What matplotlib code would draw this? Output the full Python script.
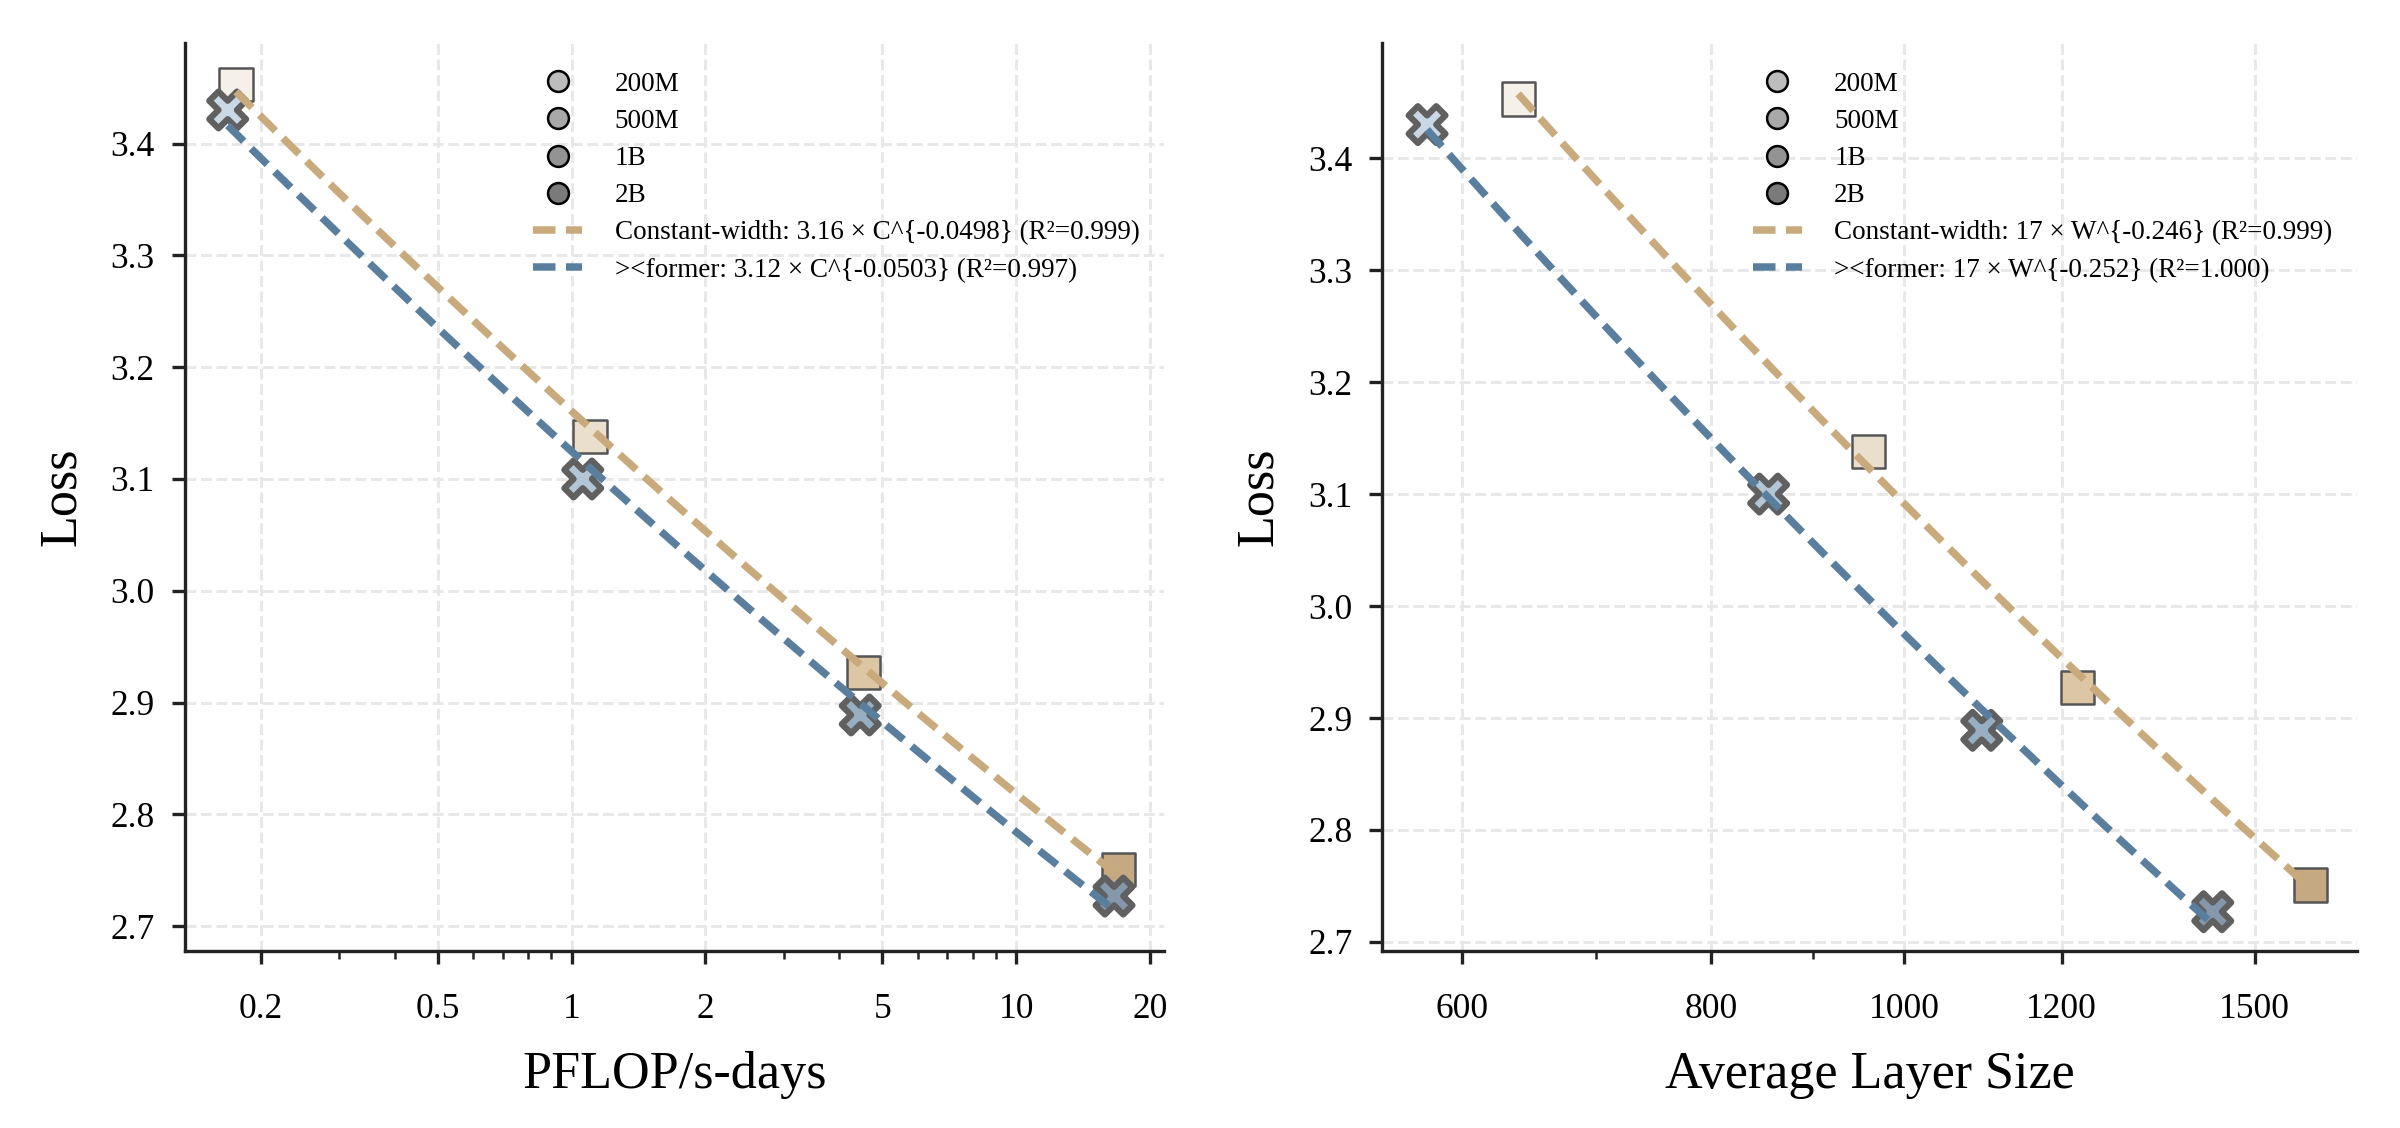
import numpy as np
import matplotlib
matplotlib.use("Agg")
import matplotlib.pyplot as plt
from matplotlib.ticker import FixedLocator, FixedFormatter, NullFormatter
from matplotlib.lines import Line2D

plt.rcParams['font.family'] = ['Liberation Serif', 'DejaVu Serif']

# model sizes (legend)
sizes = ["200M", "500M", "1B", "2B"]
size_grays = ["#bdbdbd", "#a8a8a8", "#939393", "#7a7a7a"]

# constant-width models (squares)
cw_compute = [0.176, 1.10, 4.53, 17.0]
cw_layer = [640, 960, 1222, 1600]
cw_loss = [3.453, 3.138, 2.927, 2.751]

# ><former models (crosses)
fm_compute = [0.1686, 1.06, 4.46, 16.6]
fm_layer = [576, 855, 1094, 1429]
fm_loss = [3.430, 3.100, 2.889, 2.727]

cw_labels = ["Constant-width: 3.16 \u00d7 C^{-0.0498} (R\u00b2=0.999)",
             "Constant-width: 17 \u00d7 W^{-0.246} (R\u00b2=0.999)"]
fm_labels = ["><former: 3.12 \u00d7 C^{-0.0503} (R\u00b2=0.997)",
             "><former: 17 \u00d7 W^{-0.252} (R\u00b2=1.000)"]

square_colors = ["#f5f1e8", "#eadfcc", "#dcc6a4", "#c4a982"]
cross_colors = ["#c9d8e4", "#b3c6d6", "#98aec1", "#8598ab"]
tan = "#c9aa7c"
blue = "#5a7f9e"
dash = (3, 1.4)


def power_fit(x, y):
    slope, icpt = np.polyfit(np.log(x), np.log(y), 1)
    xs = np.geomspace(min(x), max(x), 100)
    return xs, np.exp(icpt) * xs ** slope


def draw_panel(ax, cw_x, fm_x, xlabel, major, minor, xlim, ylim, idx):
    ax.set_xscale('log')
    ax.scatter(cw_x, cw_loss, marker='s', s=64, c=square_colors,
               edgecolors='#555555', linewidths=0.6, zorder=3)
    ax.scatter(fm_x, fm_loss, marker='X', s=78, c=cross_colors,
               edgecolors='#606060', linewidths=1.5, zorder=4)
    xs, ys = power_fit(cw_x, cw_loss)
    ax.plot(xs, ys, linestyle=(0, dash), color=tan, lw=1.8, zorder=5)
    xs, ys = power_fit(fm_x, fm_loss)
    ax.plot(xs, ys, linestyle=(0, dash), color=blue, lw=1.8, zorder=5)

    ax.set_xlim(*xlim)
    ax.set_ylim(*ylim)
    ax.xaxis.set_major_locator(FixedLocator(major))
    ax.xaxis.set_major_formatter(FixedFormatter([f"{m:g}" for m in major]))
    ax.xaxis.set_minor_locator(FixedLocator(minor))
    ax.xaxis.set_minor_formatter(NullFormatter())
    yt = [2.7, 2.8, 2.9, 3.0, 3.1, 3.2, 3.3, 3.4]
    ax.set_yticks(yt)
    ax.set_yticklabels([f"{v:.1f}" for v in yt])

    ax.grid(True, which='major', color='#e8e8e8', linestyle='--', lw=0.7, zorder=0)
    ax.set_axisbelow(True)
    for s in ['top', 'right']:
        ax.spines[s].set_visible(False)
    for s in ['left', 'bottom']:
        ax.spines[s].set_linewidth(0.8)
        ax.spines[s].set_color('#222222')
    ax.tick_params(which='major', length=3.2, width=0.8, labelsize=8.5, color='#222222')
    ax.tick_params(axis='x', which='major', pad=7)
    ax.tick_params(axis='y', which='major', pad=4)
    ax.tick_params(which='minor', length=1.8, width=0.6, color='#222222')
    ax.set_xlabel(xlabel, fontsize=12.5, labelpad=6)
    ax.set_ylabel("Loss", fontsize=12.5, labelpad=6)

    handles = [Line2D([], [], marker='o', linestyle='none', markersize=5,
                      markerfacecolor=g, markeredgecolor='black', markeredgewidth=0.6)
               for g in size_grays]
    handles += [Line2D([], [], color=tan, lw=1.8, linestyle=(0, dash)),
                Line2D([], [], color=blue, lw=1.8, linestyle=(0, dash))]
    labels = sizes + [cw_labels[idx], fm_labels[idx]]
    ax.legend(handles, labels, loc='upper right', frameon=False, fontsize=6.5,
              labelspacing=0.45, handlelength=1.8, handletextpad=1.2,
              bbox_to_anchor=(1.0, 0.995))


fig = plt.figure(figsize=(8, 3.76), dpi=300)
ax1 = fig.add_axes([0.077, 0.157, 0.408, 0.805])
ax2 = fig.add_axes([0.576, 0.157, 0.406, 0.805])

draw_panel(ax1, cw_compute, fm_compute, "PFLOP/s-days",
           [0.2, 0.5, 1, 2, 5, 10, 20],
           [0.3, 0.4, 0.6, 0.7, 0.8, 0.9, 3, 4, 6, 7, 8, 9],
           (0.135, 21.5), (2.678, 3.49), 0)
draw_panel(ax2, cw_layer, fm_layer, "Average Layer Size",
           [600, 800, 1000, 1200, 1500],
           [700, 900],
           (547, 1688), (2.692, 3.503), 1)

fig.savefig("out.png", dpi=300)
